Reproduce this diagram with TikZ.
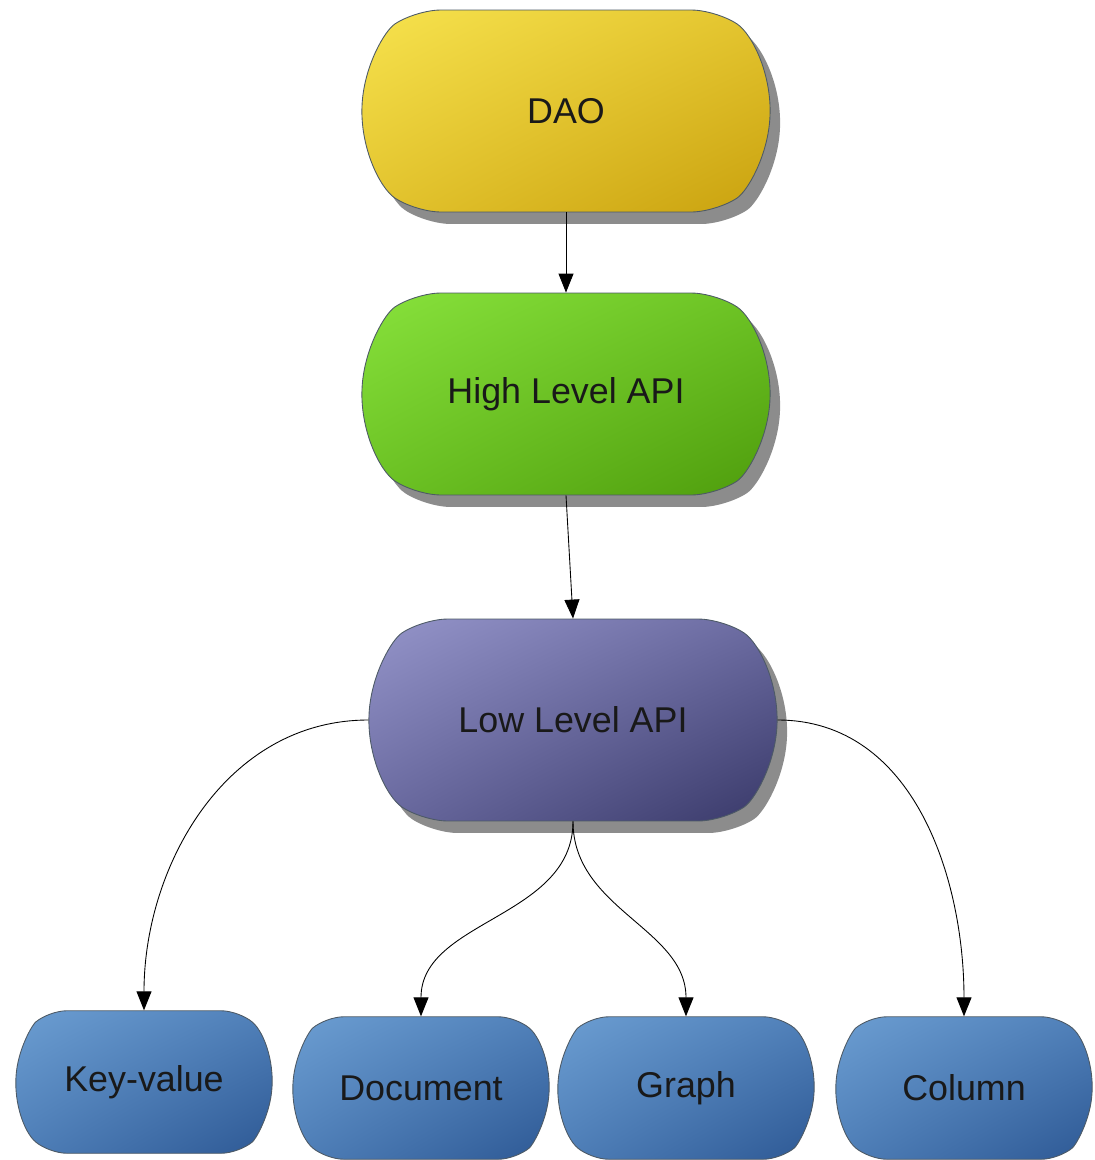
\documentclass[tikz,border=0pt]{standalone}
\usepackage{fontspec}
\setmainfont{Liberation Sans}
\usepackage{xcolor}
\usetikzlibrary{arrows.meta}
\usetikzlibrary{shapes.misc}
\usetikzlibrary{shadows}
\usetikzlibrary{shadings}

\definecolor{daoLight}{HTML}{F7E34E}
\definecolor{daoMid}{HTML}{E3C42E}
\definecolor{daoDark}{HTML}{C9A10E}
\definecolor{highLight}{HTML}{88E23C}
\definecolor{highMid}{HTML}{6CC224}
\definecolor{highDark}{HTML}{4E9C0C}
\definecolor{lowLight}{HTML}{9595CA}
\definecolor{lowMid}{HTML}{6A6AA0}
\definecolor{lowDark}{HTML}{383868}
\definecolor{storeLight}{HTML}{6C9ED2}
\definecolor{storeMid}{HTML}{4F7FB8}
\definecolor{storeDark}{HTML}{2D5894}
\definecolor{edgeGray}{HTML}{4D5A66}
\definecolor{shadowGray}{HTML}{8C8C8C}

\begin{document}
\begin{tikzpicture}[x = 0.02cm, y = -0.02cm, >={Triangle[length = 0.38cm, width = 0.3cm]}]
\tikzset{
  layer/.style = {rounded rectangle, rounded rectangle arc length = 112, rounded corners = 0.5cm, draw = edgeGray, line width = 0.5pt,
    minimum width = 8.4cm, minimum height = 4.04cm, font = \fontsize{20.4}{24}\selectfont, text = black!90,
    shading = bilinear interpolation,
    drop shadow = {shadow xshift = 0.2cm, shadow yshift = -0.24cm, fill = shadowGray, opacity = 1}},
  store/.style = {rounded rectangle, rounded rectangle arc length = 100, rounded corners = 0.35cm, draw = edgeGray, line width = 0.5pt,
    minimum width = 5.36cm, minimum height = 2.85cm, font = \fontsize{20.4}{24}\selectfont, text = black!90,
    shading = bilinear interpolation,
    upper left = storeLight, upper right = storeMid, lower left = storeMid, lower right = storeDark},
  link/.style = {->, line width = 0.5pt, sharp corners}
}
\useasboundingbox (0, 0) rectangle (1095, 1160);

% layers
\node [layer, upper left = daoLight, upper right = daoMid, lower left = daoMid, lower right = daoDark] (dao) at (566, 111) {DAO};
\node [layer, upper left = highLight, upper right = highMid, lower left = highMid, lower right = highDark] (high) at (566, 394) {High Level API};
\node [layer, upper left = lowLight, upper right = lowMid, lower left = lowMid, lower right = lowDark] (low) at (573, 720) {Low Level API};

% stores
\node [store] (kv) at (144, 1082) {Key-value};
\node [store] (doc) at (421, 1088) {Document};
\node [store] (graph) at (686, 1088) {Graph};
\node [store] (col) at (964, 1088) {Column};

% links
\draw [link] (dao.south) -- (high.north);
\draw [link] (high.south) -- (low.north);
\draw [link] (low.west) to [out = 180, in = 90] (kv.north);
\draw [link] (low.east) to [out = 0, in = 90] (col.north);
\draw [link] (low.south) to [out = -90, in = 90] (doc.north);
\draw [link] (low.south) to [out = -90, in = 90] (graph.north);
\end{tikzpicture}
\end{document}
